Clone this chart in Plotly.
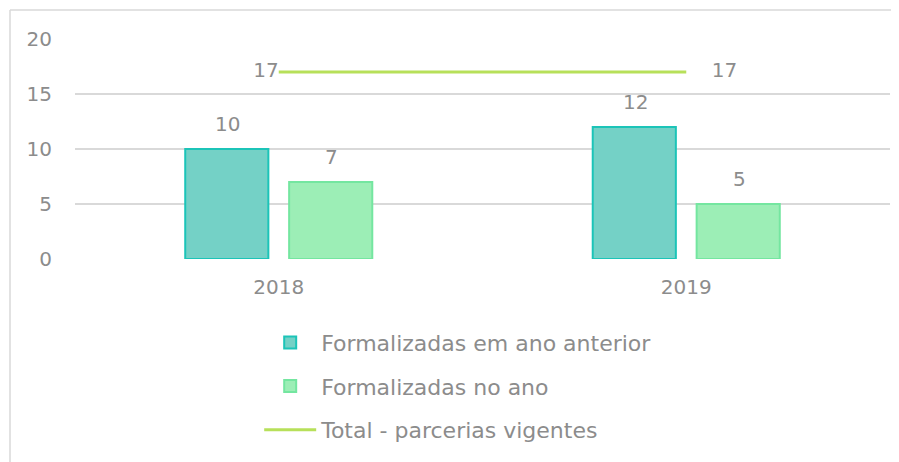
import plotly.graph_objects as go

years = ["2018", "2019"]
anterior = [10, 12]
no_ano = [7, 5]
total = [17, 17]
names = ["Formalizadas em ano anterior", "Formalizadas no ano", "Total - parcerias vigentes"]
y_ticks = [0, 5, 10, 15, 20]

FONT = "DejaVu Sans"
GRAY = "#8c8c8c"
BORDER = dict(color="#d9d9d9", width=1.5)

fig = go.Figure()
fig.add_trace(go.Bar(
    x=years, y=anterior, name=names[0], legendgroup="a",
    marker=dict(color="#74d1c6", line=dict(color="#1cc4b8", width=2)),
))
fig.add_trace(go.Bar(
    x=years, y=no_ano, name=names[1], legendgroup="b",
    marker=dict(color="#9ceeb6", line=dict(color="#74e6a0", width=2)),
))
fig.add_trace(go.Scatter(
    x=years, y=total, name=names[2], legendgroup="c",
    mode="lines+text",
    text=[f"{total[0]}", "\u00a0\u00a0\u00a0\u00a0" + f"{total[1]}"],
    textposition=["middle left", "middle right"],
    textfont=dict(size=20, color=GRAY, family=FONT),
    line=dict(color="#b7e05a", width=3),
))

annotations = []
for vals, xs in ((anterior, -51), (no_ano, 53)):
    for i, v in enumerate(vals):
        annotations.append(dict(x=i, y=v, xref="x", yref="y", text=str(v), showarrow=False,
                                xshift=xs, yshift=25,
                                font=dict(size=20, color=GRAY, family=FONT)))

fig.update_layout(
    width=891, height=454,
    margin=dict(l=67, r=9, t=31, b=203, autoexpand=False),
    paper_bgcolor="white", plot_bgcolor="white",
    barmode="group", bargap=0.49, bargroupgap=0.2,
    font=dict(family=FONT, color=GRAY, size=18),
    annotations=annotations,
    legend=dict(orientation="v", x=0.226, xanchor="left", y=-0.285, yanchor="top",
                font=dict(size=22, color=GRAY, family=FONT),
                itemwidth=52, tracegroupgap=12, traceorder="grouped"),
    shapes=[
        dict(type="line", xref="paper", yref="paper",
             x0=-65/815, x1=1+9/815, y0=1+29/220, y1=1+29/220, line=BORDER, layer="below"),
        dict(type="line", xref="paper", yref="paper",
             x0=-65/815, x1=-65/815, y0=1+29/220, y1=-205/220, line=BORDER, layer="below"),
    ],
    xaxis=dict(type="category", categoryorder="array", categoryarray=years,
               range=[-0.5, 1.5], autorange=False),
)
fig.update_xaxes(showgrid=False, showline=False, ticks="",
                 tickfont=dict(size=20, color=GRAY), ticklabelstandoff=14)
fig.update_yaxes(range=[0, 20], tickvals=y_ticks, showgrid=True, gridcolor="#d9d9d9",
                 gridwidth=1.5, zeroline=False, showline=False, ticks="",
                 tickfont=dict(size=20, color=GRAY), ticklabelstandoff=22)

fig.write_html("out.html")
